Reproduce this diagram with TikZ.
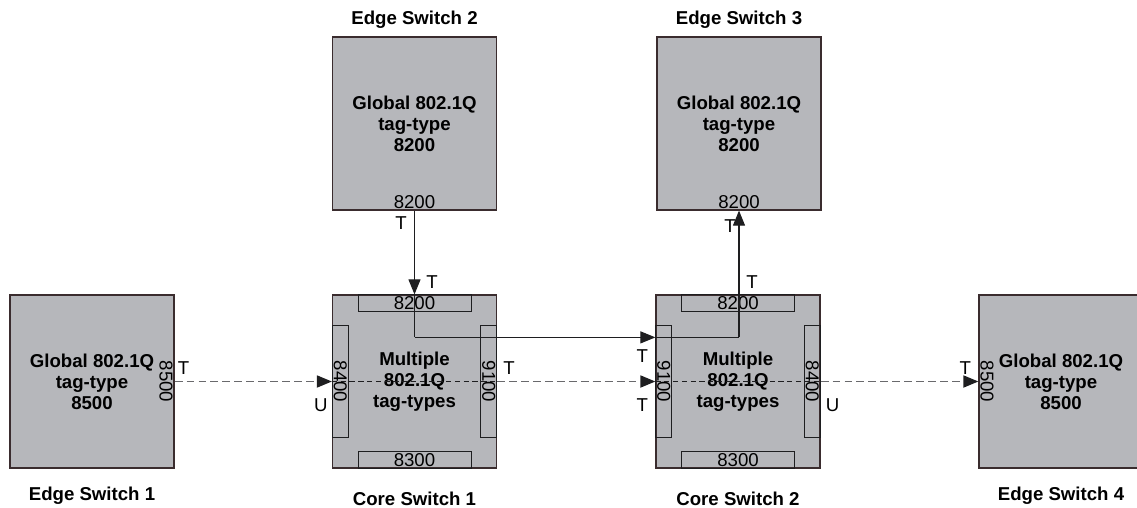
\documentclass[tikz,border=0pt]{standalone}
\usepackage{fontspec}
\setmainfont{Liberation Sans}
\usepackage{xcolor}
\usepackage{tikz}
\usetikzlibrary{arrows.meta, positioning, calc}
\definecolor{swgray}{RGB}{182,183,187}
\definecolor{swedge}{RGB}{58,44,46}
\definecolor{mydark}{RGB}{30,30,32}
\definecolor{dashgray}{RGB}{105,105,108}
\newcommand{\diagfont}{\fontsize{10.6}{12}\selectfont}
\tikzset{
  switchbox/.style={rectangle, draw=swedge, fill=swgray,
    minimum width=3.28cm, minimum height=3.46cm, inner sep=0pt,
    align=center, font=\diagfont\bfseries, line width=0.7pt},
  portbox/.style={rectangle, draw=mydark, inner sep=0pt, line width=0.5pt},
  hport/.style={portbox, minimum width=2.26cm, minimum height=0.34cm},
  vport/.style={portbox, minimum width=2.24cm, minimum height=0.32cm, rotate=-90},
  portlabel/.style={inner sep=1pt},
  swname/.style={font=\diagfont\bfseries},
  tag/.style={inner sep=0pt},
  arrow/.style={-{Triangle[length=0.3cm, width=0.24cm, color=mydark]},
    line width=0.6pt, color=mydark},
  line/.style={line width=0.6pt, color=mydark},
  dasharrow/.style={-{Triangle[length=0.3cm, width=0.24cm, color=mydark]},
    line width=1pt, color=dashgray, dash pattern=on 4.5pt off 2.3pt},
  innerdash/.style={line width=0.5pt, color=mydark, dash pattern=on 3pt off 2pt}
}
\begin{document}
\begin{tikzpicture}[every node/.style={font=\diagfont}]
  \useasboundingbox (0,0) rectangle (22.74,-10.16);

  % Switches
  \node[switchbox] (edge1) at (1.84,-7.63) {Global 802.1Q\\tag-type\\8500};
  \node[switchbox] (core1) at (8.29,-7.63) {Multiple\\802.1Q\\tag-types};
  \node[switchbox] (core2) at (14.76,-7.63) {Multiple\\802.1Q\\tag-types};
  \node[switchbox] (edge4) at (21.22,-7.63) {Global 802.1Q\\tag-type\\8500};
  \node[switchbox] (edge2) at (8.29,-2.47) {Global 802.1Q\\tag-type\\8200};
  \node[switchbox] (edge3) at (14.78,-2.47) {Global 802.1Q\\tag-type\\8200};

  % Switch names
  \node[swname, below=0.25cm of edge1] (edge1name) {Edge Switch 1};
  \node[swname, below=0.35cm of core1] (core1name) {Core Switch 1};
  \node[swname, below=0.35cm of core2] (core2name) {Core Switch 2};
  \node[swname, below=0.25cm of edge4] (edge4name) {Edge Switch 4};
  \node[swname, above=0.03cm of edge2] (edge2name) {Edge Switch 2};
  \node[swname, above=0.03cm of edge3] (edge3name) {Edge Switch 3};

  % Ports of the edge switches
  \node[portlabel, rotate=-90, anchor=north] (edge1port) at (edge1.east) {8500};
  \node[portlabel, rotate=-90, anchor=south] (edge4port) at (edge4.west) {8500};
  \node[portlabel, anchor=south] (edge2port) at (edge2.south) {8200};
  \node[portlabel, anchor=south] (edge3port) at (edge3.south) {8200};

  % Ports of the core switches
  \node[hport, anchor=north] (core1top) at (core1.north) {8200};
  \node[hport, anchor=south] (core1bot) at (core1.south) {8300};
  \node[vport, anchor=south] (core1left) at (core1.west) {8400};
  \node[vport, anchor=north] (core1right) at (core1.east) {9100};
  \node[hport, anchor=north] (core2top) at (core2.north) {8200};
  \node[hport, anchor=south] (core2bot) at (core2.south) {8300};
  \node[vport, anchor=south] (core2left) at (core2.west) {9100};
  \node[vport, anchor=north] (core2right) at (core2.east) {8400};

  % Tag-type 8200 path
  \coordinate (bend1) at ($(core1.north)+(0,-0.86)$);
  \coordinate (bend2) at (bend1 -| edge3.south);
  \draw[arrow] (edge2.south) -- (core1.north);
  \draw[line] (core1.north) -- (bend1);
  \draw[arrow] (bend1) -- (bend1 -| core2.west);
  \draw[line] (bend1 -| core2.west) -- (bend2);
  \draw[arrow] (bend2) -- (edge3.south);

  % Dashed path across the core
  \draw[dasharrow] (edge1.east) -- (core1.west);
  \draw[innerdash] (core1.west) -- (core1.east);
  \draw[dasharrow] (core1.east) -- (core2.west);
  \draw[innerdash] (core2.west) -- (core2.east);
  \draw[dasharrow] (core2.east) -- (edge4.west);

  % Tagged / untagged marks
  \node[tag] (t1) at ($(edge2.south)+(-0.27,-0.24)$) {T};
  \node[tag] (t2) at ($(core1.north)+(0.35,0.24)$) {T};
  \node[tag] (t3) at ($(bend1 -| core2.west)+(-0.26,-0.38)$) {T};
  \node[tag] (t4) at ($(bend2 |- core2.north)+(0.26,0.24)$) {T};
  \node[tag] (t5) at ($(edge3.south)+(-0.18,-0.3)$) {T};
  \node[tag] (t6) at ($(edge1.east)+(0.18,0.27)$) {T};
  \node[tag] (u1) at ($(core1.west)+(-0.22,-0.47)$) {U};
  \node[tag] (t7) at ($(core1.east)+(0.24,0.27)$) {T};
  \node[tag] (t8) at ($(core2.west)+(-0.26,-0.47)$) {T};
  \node[tag] (u2) at ($(core2.east)+(0.24,-0.47)$) {U};
  \node[tag] (t9) at ($(edge4.west)+(-0.26,0.27)$) {T};
\end{tikzpicture}
\end{document}
